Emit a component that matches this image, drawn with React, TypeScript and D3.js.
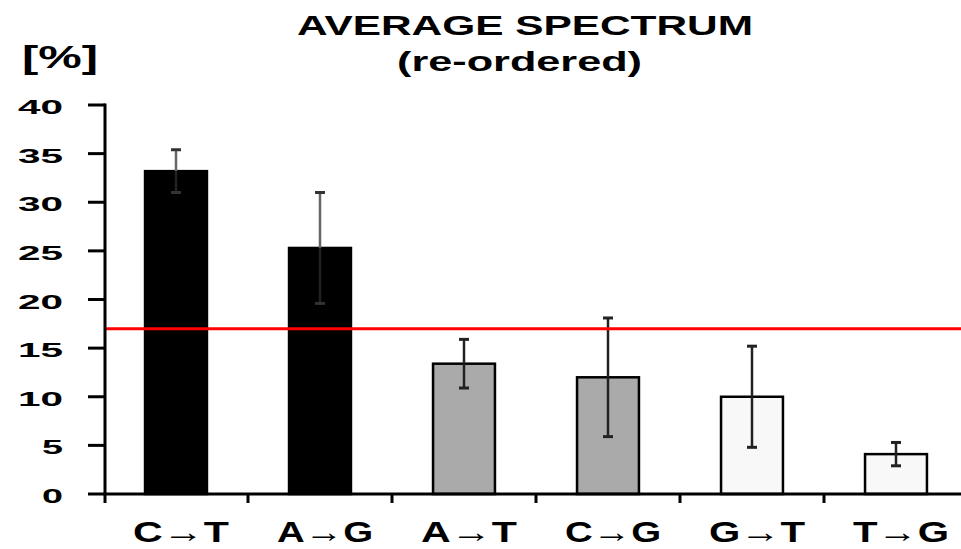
import * as d3 from 'd3';
import { useEffect, useRef } from 'react';

const categories = ['C→T', 'A→G', 'A→T', 'C→G', 'G→T', 'T→G'];
const means = [33.2, 25.3, 13.4, 12.0, 10.0, 4.1];
const errors = [2.2, 5.7, 2.5, 6.1, 5.2, 1.2];
const barColors = ['#000000', '#000000', '#aaaaaa', '#aaaaaa', '#f8f8f8', '#f8f8f8'];
const yTicks = [0, 5, 10, 15, 20, 25, 30, 35, 40];
const reference = 17;

const W = 961;
const H = 549;
const FONT = '"Liberation Sans", Arial, sans-serif';

export default function App() {
  const ref = useRef<SVGSVGElement>(null);

  useEffect(() => {
    const svg = d3.select(ref.current);
    svg.selectAll('*').remove();

    const x = d3.scaleBand<string>()
      .domain(categories)
      .range([104, 968])
      .paddingInner(0.57)
      .paddingOuter(0.285);
    const y = d3.scaleLinear().domain([0, 40]).range([494, 105]);
    const color = d3.scaleOrdinal<string, string>().domain(categories).range(barColors);

    svg.append('rect').attr('width', W).attr('height', H).attr('fill', '#fff');

    // titles
    svg.append('text')
      .attr('x', 297).attr('y', 35)
      .attr('textLength', 456).attr('lengthAdjust', 'spacingAndGlyphs')
      .style('font', `bold 28px ${FONT}`)
      .text('AVERAGE SPECTRUM');
    svg.append('text')
      .attr('x', 397).attr('y', 71)
      .attr('textLength', 245).attr('lengthAdjust', 'spacingAndGlyphs')
      .style('font', `bold 28px ${FONT}`)
      .text('(re-ordered)');
    svg.append('text')
      .attr('x', 22).attr('y', 68)
      .attr('textLength', 76).attr('lengthAdjust', 'spacingAndGlyphs')
      .style('font', `bold 32px ${FONT}`)
      .text('[%]');

    const data = categories.map((c, i) => ({ c, v: means[i], e: errors[i] }));

    // bars
    svg.append('g').selectAll('rect')
      .data(data)
      .enter()
      .append('rect')
      .attr('x', d => x(d.c)!)
      .attr('y', d => y(d.v))
      .attr('width', x.bandwidth())
      .attr('height', d => y(0) - y(d.v))
      .attr('fill', d => color(d.c))
      .attr('stroke', '#000')
      .attr('stroke-width', 2.5);

    // error bars
    const err = svg.append('g');
    data.forEach(d => {
      const cx = x(d.c)! + x.bandwidth() / 2;
      const dark = color(d.c) === '#000000';
      err.append('line')
        .attr('x1', cx).attr('x2', cx)
        .attr('y1', y(d.v + d.e)).attr('y2', y(d.v))
        .attr('stroke', dark ? '#666' : '#222').attr('stroke-width', 2.5);
      err.append('line')
        .attr('x1', cx).attr('x2', cx)
        .attr('y1', y(d.v)).attr('y2', y(d.v - d.e))
        .attr('stroke', '#222').attr('stroke-width', 2.5);
      [d.v + d.e, d.v - d.e].forEach(v => {
        err.append('line')
          .attr('x1', cx - 5).attr('x2', cx + 5)
          .attr('y1', y(v)).attr('y2', y(v))
          .attr('stroke', dark ? '#333' : '#222').attr('stroke-width', 3);
      });
    });

    // reference line
    svg.append('line')
      .attr('x1', 105).attr('x2', W)
      .attr('y1', y(reference)).attr('y2', y(reference))
      .attr('stroke', '#ff0000').attr('stroke-width', 3);

    // y axis
    const ya = svg.append('g');
    ya.append('line')
      .attr('x1', 105).attr('x2', 105)
      .attr('y1', y(40) - 1.5).attr('y2', 503)
      .attr('stroke', '#000').attr('stroke-width', 3);
    yTicks.forEach(t => {
      ya.append('line')
        .attr('x1', 88).attr('x2', 105)
        .attr('y1', y(t)).attr('y2', y(t))
        .attr('stroke', '#000').attr('stroke-width', 3);
      const s = String(t);
      ya.append('text')
        .attr('x', 63).attr('y', y(t) + 9)
        .attr('text-anchor', 'end')
        .attr('textLength', s.length * 21 + (s.length - 1) * 3)
        .attr('lengthAdjust', 'spacingAndGlyphs')
        .style('font', `bold 21px ${FONT}`)
        .text(s);
    });

    // x axis
    const xa = svg.append('g');
    xa.append('line')
      .attr('x1', 103.5).attr('x2', W)
      .attr('y1', y(0)).attr('y2', y(0))
      .attr('stroke', '#000').attr('stroke-width', 3);
    categories.slice(1).forEach(c => {
      const bx = x(c)! - x.step() * x.paddingInner() / 2;
      xa.append('line')
        .attr('x1', bx).attr('x2', bx)
        .attr('y1', y(0)).attr('y2', y(0) + 9)
        .attr('stroke', '#000').attr('stroke-width', 3);
    });
    categories.forEach(c => {
      xa.append('text')
        .attr('x', x(c)! + x.bandwidth() / 2 + 5)
        .attr('y', 542)
        .attr('text-anchor', 'middle')
        .attr('textLength', 96)
        .attr('lengthAdjust', 'spacingAndGlyphs')
        .style('font', `bold 30px ${FONT}`)
        .text(c);
    });
  }, []);

  return (
    <svg
      ref={ref}
      width={W}
      height={H}
      style={{ position: 'absolute', left: 0, top: 0 }}
    />
  );
}
